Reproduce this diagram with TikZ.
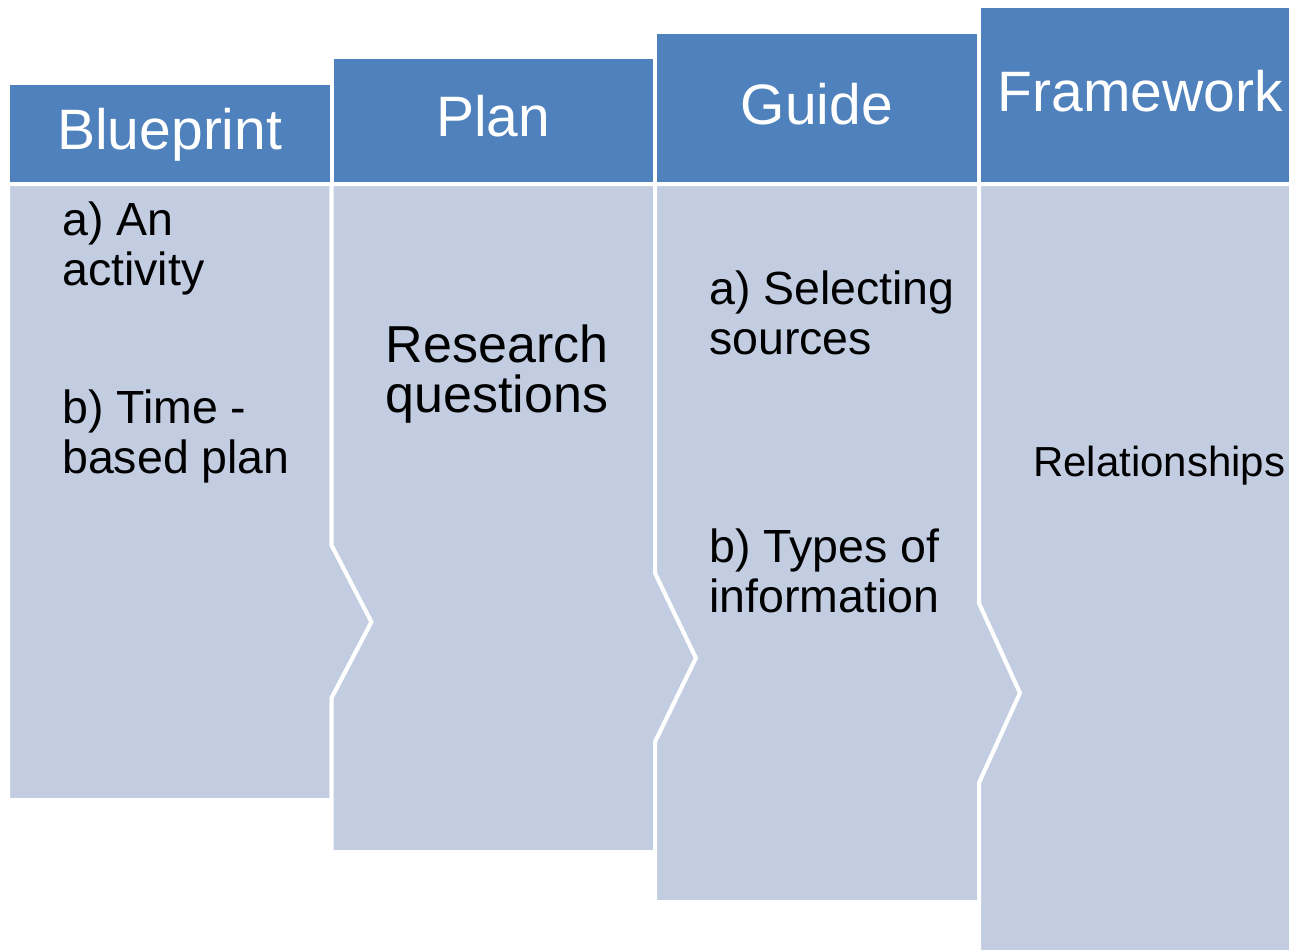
\documentclass[tikz,border=0pt]{standalone}
\usepackage{fontspec}
\setmainfont{Liberation Sans}

\definecolor{headblue}{HTML}{4F81BD}
\definecolor{bodyblue}{HTML}{C2CDE2}

\tikzset{
  head/.style={rectangle,fill=headblue,draw=white,line width=4pt,inner sep=0pt,
    text=white,font=\fontsize{57}{60}\selectfont,text height=42pt,text depth=10pt},
  body/.style={fill=bodyblue,draw=white,line width=4pt},
  item/.style={inner sep=0pt,align=left,anchor=base west,
    font=\fontsize{46.5}{50}\selectfont}
}

\begin{document}
\begin{tikzpicture}[x=1pt,y=-1pt]

        \useasboundingbox (0,0) rectangle (1289,950);
        \clip (0,0) rectangle (1289,950);

        % column bodies, each with a chevron into the next one
        \draw[body] (8,184) -- (331.5,184) -- (331.5,545) -- (371.5,622)
          -- (331.5,698) -- (331.5,800) -- (8,800) -- cycle;
        \draw[body] (331.5,184) -- (655,184) -- (655,573) -- (696,658)
          -- (655,742) -- (655,852) -- (331.5,852) -- (331.5,698)
          -- (371.5,622) -- (331.5,545) -- cycle;
        \draw[body] (655,184) -- (979,184) -- (979,603) -- (1020,693)
          -- (979,783) -- (979,902) -- (655,902) -- (655,742)
          -- (696,658) -- (655,573) -- cycle;
        \draw[body] (979,184) -- (1301,184) -- (1301,952) -- (979,952)
          -- (979,783) -- (1020,693) -- (979,603) -- cycle;

        \begin{scope}[every node/.style={head}]
          \node[minimum width=323.5pt,minimum height=101pt] (h1) at (169.75,133.5) {Blueprint};
          \node[minimum width=323.5pt,minimum height=127pt] (h2) at (493.25,120.5) {Plan};
          \node[minimum width=324pt,minimum height=152pt]   (h3) at (817,108)      {Guide};
          \node[minimum width=322pt,minimum height=178pt]   (h4) at (1140,95)      {Framework};
        \end{scope}

        % base anchor sits on the last line
        \begin{scope}[every node/.style={item}]
          \node (c1a) at (62,285)  {a) An\\activity};
          \node (c1b) at (62,473)  {b) Time -\\based plan};
          \node (c3a) at (709,354) {a) Selecting\\sources};
          \node (c3b) at (709,612) {b) Types of\\information};
        \end{scope}

        \node[inner sep=0pt,align=center,anchor=base,font=\fontsize{52}{50}\selectfont]
          (c2) at (497,412) {Research\\questions};
        \node[inner sep=0pt,anchor=base west,font=\fontsize{42}{48}\selectfont]
          (c4) at (1033,476) {Relationships};

      \end{tikzpicture}
\end{document}
